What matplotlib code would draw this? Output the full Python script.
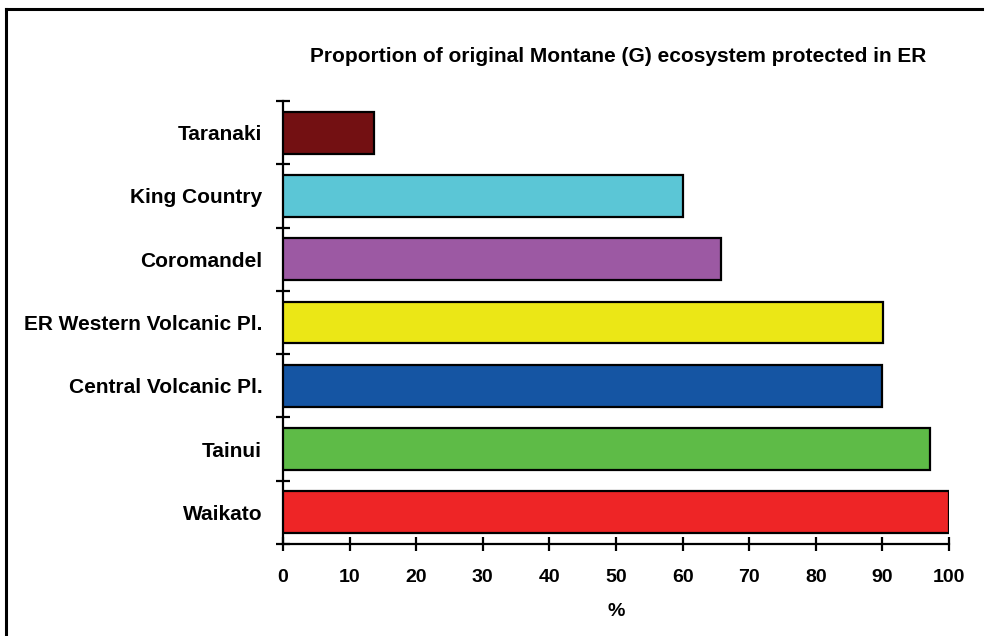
import matplotlib
matplotlib.use('Agg')
import matplotlib.pyplot as plt
from matplotlib.lines import Line2D
from matplotlib.ticker import FixedLocator, MultipleLocator

plt.rcParams['font.family'] = ['Liberation Sans', 'DejaVu Sans']
plt.rcParams['font.weight'] = 'bold'

# regions listed bottom to top
regions = ['Waikato', 'Tainui', 'Central Volcanic Pl.', 'ER Western Volcanic Pl.',
           'Coromandel', 'King Country', 'Taranaki']
protected_pct = [100, 97.2, 90, 90.1, 65.8, 60.0, 13.7]
bar_colors = ['#EE2526', '#5EBB47', '#1555A3', '#EBE716', '#9C59A3', '#5BC6D6', '#731012']

fig = plt.figure(figsize=(9.87, 6.36), dpi=100)
ax = fig.add_axes([283 / 987, 1 - 544 / 636, 666 / 987, 443 / 636])

ypos = list(range(len(regions)))
ax.barh(ypos, protected_pct, height=0.66, color=bar_colors,
        edgecolor='black', linewidth=1.6, zorder=3)

ax.set_xlim(0, 100)
ax.set_ylim(-0.5, len(regions) - 0.5)

ax.xaxis.set_major_locator(MultipleLocator(10))
ax.set_yticks(ypos)
ax.set_yticklabels(regions)
ax.yaxis.set_minor_locator(FixedLocator([i - 0.5 for i in range(len(regions) + 1)]))

ax.tick_params(axis='y', which='major', length=0, pad=15, labelsize=15)
ax.tick_params(axis='y', which='minor', length=10, width=1.6, direction='inout')
ax.tick_params(axis='x', which='major', length=10, width=1.6, direction='inout',
               pad=13, labelsize=14)

for side in ('top', 'right'):
    ax.spines[side].set_visible(False)
for side in ('left', 'bottom'):
    ax.spines[side].set_linewidth(1.6)

ax.set_xlabel('%', fontsize=14, fontweight='bold', labelpad=12)
fig.text(618 / 987, 1 - 56 / 636, 'Proportion of original Montane (G) ecosystem protected in ER',
         ha='center', va='center', fontsize=15, fontweight='bold')

# partial frame: left and top edges only
fig.add_artist(Line2D([6 / 987, 6 / 987], [0, 1 - 9 / 636], color='black', linewidth=2.2,
                      transform=fig.transFigure))
fig.add_artist(Line2D([6 / 987, 982 / 987], [1 - 9 / 636, 1 - 9 / 636], color='black',
                      linewidth=2.2, transform=fig.transFigure))

fig.savefig('out.png', dpi=100, facecolor='white')
